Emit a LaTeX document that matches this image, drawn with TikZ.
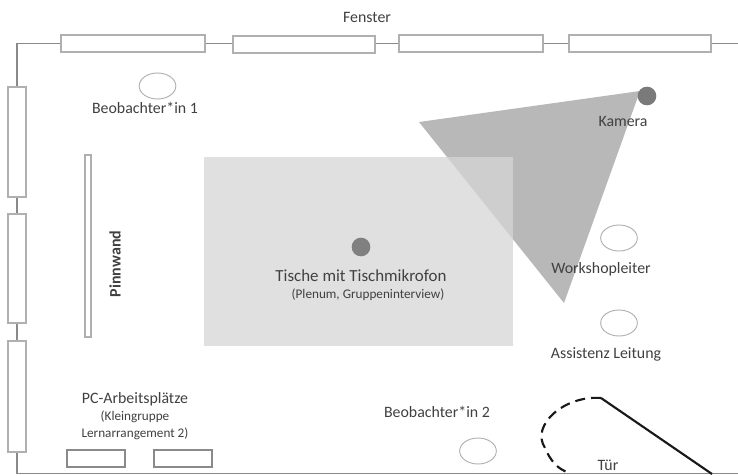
\documentclass[tikz,border=0pt]{standalone}
\usepackage{fontspec}
\setmainfont{Carlito}
\usetikzlibrary{shapes.geometric}
\definecolor{wallc}{HTML}{8A8A8A}
\definecolor{edgec}{HTML}{B0B0B0}
\definecolor{txt}{HTML}{404040}
\tikzset{
  wall/.style={draw=wallc,line width=1pt},
  winbox/.style={draw=edgec,line width=0.8pt,fill=white},
  seat/.style={ellipse,draw=edgec,line width=0.7pt,fill=white,minimum width=27.5pt,minimum height=19.5pt,inner sep=0pt},
  dot/.style={circle,fill=#1,minimum size=14pt,inner sep=0pt},
  lab/.style={text=txt,font=\fontsize{11.9}{13}\selectfont,inner sep=0pt},
  midlab/.style={text=txt,font=\fontsize{12.7}{14}\selectfont,inner sep=0pt},
  smalllab/.style={text=txt,font=\fontsize{9.9}{11}\selectfont,inner sep=0pt},
  door/.style={black!90,line width=1.6pt}
}
\begin{document}
\begin{tikzpicture}[x=0.75pt,y=-0.75pt]
\useasboundingbox (0,0) rectangle (738,475);
% walls
\coordinate (tl) at (17,43.5); \coordinate (tr) at (738,43.5);
\coordinate (bl) at (17,473.5); \coordinate (br) at (738,473.5);
\draw[wall] (tr) -- (tl) -- (bl) -- (br);
% windows
\draw[winbox] (61,35) rectangle (205,52);
\draw[winbox] (233,36) rectangle (375,53);
\draw[winbox] (399,35) rectangle (543,52);
\draw[winbox] (569,35) rectangle (711,52);
\draw[winbox] (8,87) rectangle (26,197);
\draw[winbox] (8,214) rectangle (26,323);
\draw[winbox] (8,341) rectangle (26,452);
% Pinnwand
\draw[winbox] (85,155) rectangle (91,337);
\node[lab,rotate=90,font=\fontsize{12}{13}\selectfont\bfseries] (pin) at (115,264) {Pinnwand};
% view cone and tables
\path[fill=black!28] (640,91) -- (419,122) -- (564,303) -- cycle;
\path[fill={rgb,255:red,214;green,214;blue,214},fill opacity=0.76] (204,157) rectangle (513,346);
% dots
\node[dot=black!52] (cam) at (647,96) {};
\node[dot=black!50] (mic) at (361,247) {};
% seats
\node[seat] (s1) at (157.5,86) {};
\node[seat] (s2) at (619,238) {};
\node[seat] (s3) at (619,323) {};
\node[seat] (s4) at (478,451) {};
% pc desks
\draw[winbox,draw=wallc] (67,450) rectangle (125,467);
\draw[winbox,draw=wallc] (154,450) rectangle (212,467);
% door
\coordinate (hinge) at (601,398);
\coordinate (dend) at (712,474);
\coordinate (aend) at (570,473);
\draw[door] (hinge) -- (dend);
\draw[door,dash pattern=on 7.5pt off 4.5pt] (hinge) .. controls (565,395) and (530,425) .. (545,448) .. controls (550,460) and (558,470) .. (aend);
% labels
\node[lab] (fenster) at (367,17) {Fenster};
\node[lab] (b1) at (145,108) {Beobachter*in 1};
\node[lab] (kam) at (623,121) {Kamera};
\node[midlab] (tm) at (361,276) {Tische mit Tischmikrofon};
\node[smalllab] (pl) at (368,295) {(Plenum, Gruppeninterview)};
\node[lab] (ws) at (601,269) {Workshopleiter};
\node[lab] (as) at (606,354) {Assistenz Leitung};
\node[lab] (b2) at (437,412) {Beobachter*in 2};
\node[lab] (tuer) at (608,465) {Tür};
\node[lab] (pc) at (135,399) {PC-Arbeitsplätze};
\node[smalllab] (kl) at (135,417) {(Kleingruppe};
\node[smalllab] (le) at (135,434) {Lernarrangement 2)};
\end{tikzpicture}
\end{document}
